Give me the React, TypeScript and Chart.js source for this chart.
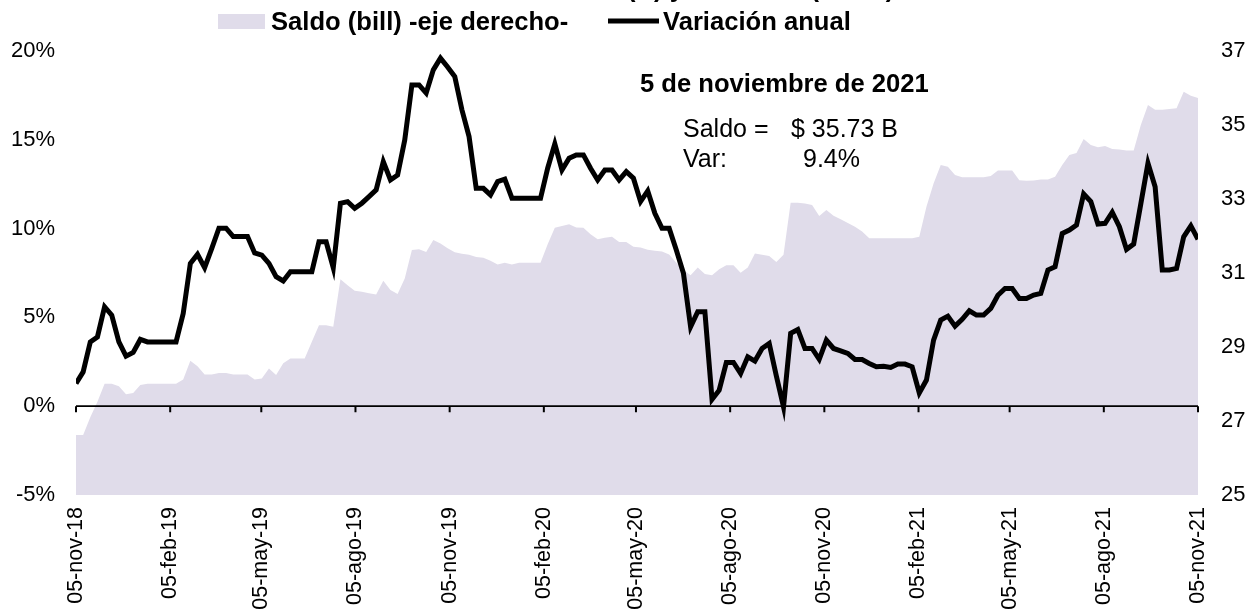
import React, { useEffect, useRef } from 'react';
import { Chart, registerables } from 'chart.js';

Chart.register(...registerables);

// ---- data ----
const tickLabels = ['05-nov-18', '05-feb-19', '05-may-19', '05-ago-19', '05-nov-19', '05-feb-20', '05-may-20', '05-ago-20', '05-nov-20', '05-feb-21', '05-may-21', '05-ago-21', '05-nov-21'];
const tickDates = ['2018-11-05', '2019-02-05', '2019-05-05', '2019-08-05', '2019-11-05', '2020-02-05', '2020-05-05', '2020-08-05', '2020-11-05', '2021-02-05', '2021-05-05', '2021-08-05', '2021-11-05'];

// Saldo (bill) - right axis
const saldo = [
  26.62, 26.62, 27.1, 27.52, 28.01, 28.01, 27.94, 27.72, 27.76, 27.97,
  28.01, 28.01, 28.01, 28.01, 28.01, 28.12, 28.63, 28.48, 28.26, 28.26,
  28.3, 28.3, 28.26, 28.26, 28.26, 28.12, 28.15, 28.42, 28.24, 28.56,
  28.69, 28.69, 28.69, 29.14, 29.59, 29.59, 29.55, 30.83, 30.67, 30.52,
  30.49, 30.45, 30.42, 30.79, 30.54, 30.43, 30.85, 31.62, 31.64, 31.57,
  31.89, 31.8, 31.67, 31.56, 31.52, 31.49, 31.43, 31.41, 31.33, 31.23,
  31.28, 31.23, 31.28, 31.28, 31.28, 31.28, 31.78, 32.22, 32.27, 32.32,
  32.23, 32.22, 32.05, 31.91, 31.95, 31.98, 31.84, 31.84, 31.71, 31.69,
  31.63, 31.6, 31.58, 31.5, 31.28, 31.08, 30.94, 31.15, 30.97, 30.94,
  31.1, 31.21, 31.21, 31.01, 31.15, 31.53, 31.49, 31.46, 31.3, 31.49,
  32.9, 32.9, 32.88, 32.84, 32.54, 32.7, 32.55, 32.45, 32.35, 32.25,
  32.12, 31.94, 31.94, 31.94, 31.94, 31.94, 31.94, 31.94, 31.98, 32.79,
  33.42, 33.92, 33.87, 33.65, 33.59, 33.59, 33.59, 33.59, 33.62, 33.77,
  33.77, 33.77, 33.51, 33.49, 33.5, 33.53, 33.53, 33.6, 33.92, 34.19,
  34.24, 34.62, 34.46, 34.4, 34.43, 34.35, 34.34, 34.31, 34.31, 35.0,
  35.54, 35.41, 35.41, 35.43, 35.45, 35.9, 35.79, 35.73,
];

// Variación anual (%) - left axis
const variacion = [
  1.28, 1.93, 3.62, 3.9, 5.6, 5.13, 3.62, 2.82, 3.03, 3.76,
  3.62, 3.62, 3.62, 3.62, 3.62, 5.22, 8.04, 8.55, 7.8, 8.89,
  10.02, 10.02, 9.55, 9.55, 9.55, 8.63, 8.51, 8.04, 7.29, 7.05,
  7.57, 7.57, 7.57, 7.57, 9.26, 9.26, 7.8, 11.43, 11.52, 11.14,
  11.43, 11.8, 12.18, 13.77, 12.74, 13.02, 14.99, 18.09, 18.09, 17.63,
  18.94, 19.6, 19.1, 18.56, 16.69, 15.18, 12.27, 12.27, 11.9, 12.65,
  12.78, 11.71, 11.71, 11.71, 11.71, 11.71, 13.4, 14.77, 13.3, 13.96,
  14.15, 14.15, 13.4, 12.74, 13.3, 13.3, 12.74, 13.21, 12.84, 11.52,
  12.12, 10.86, 10.02, 10.02, 8.79, 7.48, 4.47, 5.32, 5.32, 0.38,
  0.9, 2.46, 2.46, 1.84, 2.78, 2.54, 3.25, 3.53, 1.7, -0.04,
  4.1, 4.32, 3.25, 3.25, 2.64, 3.72, 3.25, 3.12, 2.97, 2.63,
  2.63, 2.41, 2.22, 2.25, 2.18, 2.37, 2.37, 2.22, 0.75, 1.47,
  3.72, 4.85, 5.07, 4.51, 4.89, 5.37, 5.13, 5.13, 5.51, 6.25,
  6.63, 6.63, 6.07, 6.07, 6.26, 6.35, 7.67, 7.85, 9.73, 9.92,
  10.2, 11.95, 11.52, 10.26, 10.3, 10.92, 10.11, 8.83, 9.13, 11.4,
  13.68, 12.36, 7.67, 7.67, 7.76, 9.54, 10.15, 9.4,
];

const leftTicks = [-5, 0, 5, 10, 15, 20];
const rightTicks = [25, 27, 29, 31, 33, 35, 37];

const legendSaldo = 'Saldo (bill) -eje derecho-';
const legendVar = 'Variación anual';
const titleText = 'Saldo (B) y variación (anual)';
const noteTitle = '5 de noviembre de 2021';

const FONT = '"Liberation Sans", Arial, Helvetica, sans-serif';
const AREA = '#E0DCEA';

const n = saldo.length;
const t0 = Date.parse(tickDates[0]);
const t1 = Date.parse(tickDates[tickDates.length - 1]);
const tickPos = tickDates.map((d) => ((Date.parse(d) - t0) / (t1 - t0)) * (n - 1));

const overlayPlugin = {
  id: 'overlay',
  afterDatasetDraw(chart: any, args: any) {
    if (args.index !== 0) return;
    const ctx = chart.ctx;
    const { left, right } = chart.chartArea;
    const y0 = chart.scales.y.getPixelForValue(0);
    ctx.save();
    ctx.strokeStyle = '#000';
    ctx.lineWidth = 1.75;
    ctx.beginPath();
    ctx.moveTo(left, y0);
    ctx.lineTo(right, y0);
    ctx.stroke();
    ctx.lineWidth = 2;
    ctx.beginPath();
    tickPos.forEach((p) => {
      const x = chart.scales.x.getPixelForValue(p);
      ctx.moveTo(x, y0);
      ctx.lineTo(x, y0 + 6);
    });
    ctx.stroke();
    ctx.restore();
  },
  afterDraw(chart: any) {
    const ctx = chart.ctx;
    ctx.save();
    ctx.fillStyle = '#000';
    ctx.textBaseline = 'alphabetic';
    ctx.textAlign = 'left';

    // cut-off title at the very top
    ctx.font = `bold 25.6px ${FONT}`;
    const pre = ctx.measureText('Saldo ').width;
    ctx.fillText(titleText, 627 - pre, -3);

    // legend
    ctx.fillStyle = AREA;
    ctx.fillRect(218, 14, 47, 15);
    ctx.fillStyle = '#000';
    ctx.fillText(legendSaldo, 271, 30);
    ctx.strokeStyle = '#000';
    ctx.lineWidth = 5;
    ctx.beginPath();
    ctx.moveTo(608, 21);
    ctx.lineTo(659, 21);
    ctx.stroke();
    ctx.fillText(legendVar, 663, 30);

    // annotation
    ctx.fillText(noteTitle, 640, 92);
    ctx.font = `25px ${FONT}`;
    ctx.fillText('Saldo =', 683, 137);
    ctx.fillText(`$ ${saldo[n - 1].toFixed(2)} B`, 791, 137);
    ctx.fillText('Var:', 683, 167);
    ctx.fillText(`${variacion[n - 1].toFixed(1)}%`, 803, 167);
    ctx.restore();
  },
};

export default function App() {
  const ref = useRef<HTMLCanvasElement | null>(null);

  useEffect(() => {
    if (!ref.current) return;
    const chart = new Chart(ref.current, {
      type: 'line',
      data: {
        datasets: [
          {
            label: legendSaldo,
            data: saldo.map((v, i) => ({ x: i, y: v })),
            yAxisID: 'y1',
            backgroundColor: AREA,
            borderWidth: 0,
            borderColor: AREA,
            pointRadius: 0,
            fill: 'start',
            tension: 0,
            order: 1,
          },
          {
            label: legendVar,
            data: variacion.map((v, i) => ({ x: i, y: v })),
            yAxisID: 'y',
            borderColor: '#000',
            borderWidth: 5,
            borderJoinStyle: 'miter',
            pointRadius: 0,
            fill: false,
            tension: 0,
            order: 0,
          },
        ],
      },
      options: {
        responsive: false,
        animation: false,
        devicePixelRatio: 1,
        layout: { padding: { top: 51, left: 0, right: 0, bottom: 0 } },
        plugins: {
          legend: { display: false },
          tooltip: { enabled: false },
          title: { display: false },
        },
        scales: {
          x: {
            type: 'linear',
            min: 0,
            max: n - 1,
            grid: { display: false, drawTicks: false },
            border: { display: false },
            afterBuildTicks: (s: any) => {
              s.ticks = tickPos.map((v) => ({ value: v }));
            },
            afterFit: (s: any) => {
              s.height = 115;
            },
            ticks: {
              autoSkip: false,
              minRotation: 90,
              maxRotation: 90,
              padding: 12,
              color: '#000',
              font: { family: FONT, size: 21.5 },
              callback: (_v: any, i: number) => tickLabels[i],
            },
          },
          y: {
            position: 'left',
            min: leftTicks[0],
            max: leftTicks[leftTicks.length - 1],
            grid: { display: false, drawTicks: false },
            border: { display: false },
            afterBuildTicks: (s: any) => {
              s.ticks = leftTicks.map((v) => ({ value: v }));
            },
            afterFit: (s: any) => {
              s.width = 76;
            },
            ticks: {
              padding: 21,
              color: '#000',
              font: { family: FONT, size: 22 },
              callback: (v: any) => `${v}%`,
            },
          },
          y1: {
            position: 'right',
            min: rightTicks[0],
            max: rightTicks[rightTicks.length - 1],
            grid: { display: false, drawTicks: false },
            border: { display: false },
            afterBuildTicks: (s: any) => {
              s.ticks = rightTicks.map((v) => ({ value: v }));
            },
            afterFit: (s: any) => {
              s.width = 61;
            },
            ticks: {
              padding: 23,
              color: '#000',
              font: { family: FONT, size: 22 },
              callback: (v: any) => `${v}`,
            },
          },
        },
      } as any,
      plugins: [overlayPlugin],
    });
    return () => chart.destroy();
  }, []);

  return (
    <div style={{ position: 'absolute', left: 0, top: 0, width: 1259, height: 610, background: '#fff' }}>
      <canvas ref={ref} width={1259} height={610} style={{ display: 'block' }} />
    </div>
  );
}
